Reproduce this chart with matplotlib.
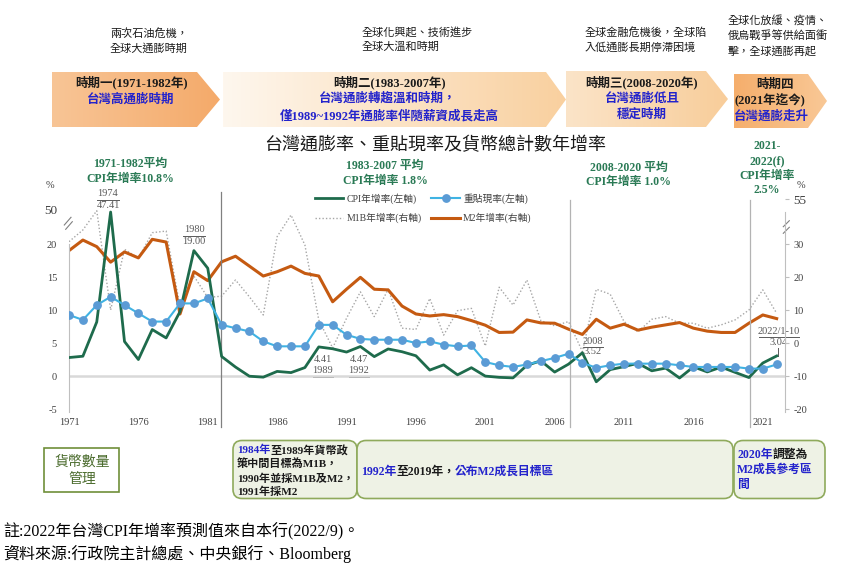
import numpy as np
import matplotlib
matplotlib.use('Agg')
import matplotlib.pyplot as plt
from matplotlib.patches import Polygon, FancyBboxPatch, Rectangle
from matplotlib.colors import to_rgb
import matplotlib.patheffects as pe

# ---------------- data ----------------
years = list(range(1971, 2023))
cpi = [2.80, 3.00, 8.19, 47.41, 5.23, 2.50, 7.04, 5.77, 9.76, 19.00,
       16.33, 2.96, 1.36, -0.03, -0.17, 0.70, 0.52, 1.28, 4.41, 4.13,
       3.63, 4.47, 2.94, 4.10, 3.68, 3.07, 0.90, 1.69, 0.18, 1.26,
       -0.01, -0.20, -0.28, 1.62, 2.31, 0.60, 1.80, 3.52, -0.87, 0.97,
       1.42, 1.93, 0.79, 1.20, -0.30, 1.39, 0.62, 1.35, 0.56, -0.23,
       1.97, 3.04]
discount = [9.25, 8.5, 10.75, 12.0, 10.75, 9.5, 8.25, 8.25, 11.0, 11.0,
            11.75, 7.75, 7.25, 6.75, 5.25, 4.5, 4.5, 4.5, 7.75, 7.75,
            6.25, 5.625, 5.5, 5.5, 5.5, 5.0, 5.25, 4.75, 4.5, 4.625,
            2.125, 1.625, 1.375, 1.75, 2.25, 2.75, 3.375, 2.0, 1.25, 1.625,
            1.875, 1.875, 1.875, 1.875, 1.625, 1.375, 1.375, 1.375, 1.375, 1.125,
            1.125, 1.75]
m1b = [31.3, 37.8, 48.5, 10.0, 28.4, 25.7, 36.3, 37.2, 11.0, 20.3,
       13.8, 14.2, 19.1, 14.0, 8.5, 34.1, 46.1, 29.7, 7.0, -1.5,
       7.5, 15.5, 8.0, 16.3, 4.5, 4.1, 13.5, 2.4, 9.8, 10.5,
       -0.9, 16.9, 11.5, 19.1, 6.8, 5.2, 6.5, -2.6, 16.3, 14.8,
       6.5, 3.4, 7.2, 8.0, 6.0, 6.0, 4.5, 5.5, 7.0, 10.0,
       16.1, 9.0]
m2 = [28.0, 32.2, 29.2, 24.5, 27.6, 25.8, 32.6, 31.1, 8.8, 21.6,
      18.9, 24.6, 26.3, 23.3, 20.3, 21.6, 23.3, 21.1, 20.3, 12.5,
      16.3, 19.9, 16.3, 16.1, 11.2, 8.8, 8.2, 8.6, 8.0, 6.8,
      5.4, 3.2, 3.3, 7.0, 6.1, 6.0, 4.2, 2.6, 7.2, 4.5,
      5.7, 3.9, 4.8, 5.5, 6.2, 4.5, 3.6, 3.2, 3.2, 6.0,
      8.5, 7.4]

left_ticks = [-5, 0, 5, 10, 15, 20, 50]
right_ticks = [-20, -10, 0, 10, 20, 30, 55]
x_ticks = [1971, 1976, 1981, 1986, 1991, 1996, 2001, 2006, 2011, 2016, 2021]
legend_labels = ['CPI年增率(左軸)', 'M1B年增率(右軸)', '重貼現率(左軸)', 'M2年增率(右軸)']
title = '台灣通膨率、重貼現率及貨幣總計數年增率'

SER = ['Liberation Serif', 'Noto Sans CJK TC']
plt.rcParams['font.family'] = SER

W, H = 847, 571
fig = plt.figure(figsize=(W / 100, H / 100), dpi=100)

# ---------------- broken scales ----------------
KL = (35 / 30) / 6.6
KR = (45 / 25) / 6.6


def fwd_L(v):
    v = np.asarray(v, float)
    return np.where(v <= 20, v, 20 + (v - 20) * KL)


def inv_L(u):
    u = np.asarray(u, float)
    return np.where(u <= 20, u, 20 + (u - 20) / KL)


def fwd_R(r):
    r = np.asarray(r, float)
    return np.where(r <= 30, (r + 10) / 2, 20 + (r - 30) * KR)


def inv_R(u):
    u = np.asarray(u, float)
    return np.where(u <= 20, 2 * u - 10, 30 + (u - 20) / KR)


U_BOT, U_TOP = -5.45, 27.88
AX_L, AX_R, AX_T, AX_B = 69, 785, 192, 412
ax = fig.add_axes([AX_L / W, 1 - AX_B / H, (AX_R - AX_L) / W, (AX_B - AX_T) / H])
ax2 = ax.twinx()
ax.set_zorder(3)
ax2.set_zorder(2)
ax.patch.set_visible(False)
ax2.patch.set_visible(False)

ax.set_yscale('function', functions=(fwd_L, inv_L))
ax2.set_yscale('function', functions=(fwd_R, inv_R))
ax.set_ylim(float(inv_L(U_BOT)), float(inv_L(U_TOP)))
ax2.set_ylim(float(inv_R(U_BOT)), float(inv_R(U_TOP)))
ax.set_xlim(1971, 2022.6)

ax.axhline(0, color='#d9d9d9', lw=1.8, zorder=1)
for xv, col, top in [(1981.95, '#808080', 1.0), (2007.1, '#b3b3b3', 0.964), (2020.05, '#b3b3b3', 0.964)]:
    ax.axvline(xv, ymin=-0.068, ymax=top, color=col, lw=0.9, clip_on=False, zorder=1)

l_m1b, = ax2.plot(years, m1b, color='#a6a6a6', lw=1.0, ls=(0, (1, 1.5)))
l_m2, = ax2.plot(years, m2, color='#c55a11', lw=2.2)
l_cpi, = ax.plot(years, cpi, color='#1e6b4c', lw=2.0, zorder=4)
l_disc, = ax.plot(years, discount, color='#3fb3e3', lw=1.5, marker='o', ms=5.3,
                  mfc='#5b9bd5', mec='#5b9bd5', zorder=5)

ax.set_xticks(x_ticks)
ax.set_xticklabels([str(v) for v in x_ticks])
ax.set_yticks(left_ticks)
ax.set_yticklabels([str(v) for v in left_ticks])
ax2.set_yticks(right_ticks)
ax2.set_yticklabels([str(v) for v in right_ticks])
ax.yaxis.set_minor_locator(matplotlib.ticker.NullLocator())
ax2.yaxis.set_minor_locator(matplotlib.ticker.NullLocator())

ax.tick_params(axis='x', length=0, pad=4, labelsize=7.5, labelcolor='#404040')
ax.tick_params(axis='y', length=0, pad=8.6, labelsize=7.5, labelcolor='#404040')
ax2.tick_params(axis='y', length=3, direction='out', color='#bfbfbf', pad=3,
                labelsize=7.5, labelcolor='#404040')
for lab in ax.get_yticklabels():
    if lab.get_text() == '50':
        lab.set_fontsize(9.5)
for lab in ax2.get_yticklabels():
    if lab.get_text() == '55':
        lab.set_fontsize(9.5)

for s in ['top', 'right', 'bottom']:
    ax.spines[s].set_visible(False)
for s in ['top', 'left', 'bottom']:
    ax2.spines[s].set_visible(False)
ax.spines['left'].set_color('#bfbfbf')
ax.spines['left'].set_bounds(float(inv_L(U_BOT)), 20.2)
ax2.spines['right'].set_color('#bfbfbf')
ax2.spines['right'].set_bounds(float(inv_R(U_BOT)), 47.8)

leg = ax.legend([l_cpi, l_m1b, l_disc, l_m2], legend_labels, ncol=2, loc='upper left',
                bbox_to_anchor=(315 / W, 1 - 193 / H), bbox_transform=fig.transFigure,
                frameon=False, fontsize=7, handlelength=2.9, handletextpad=0.35,
                columnspacing=1.0, labelspacing=0.95, borderpad=0, borderaxespad=0,
                numpoints=1)
for t in leg.get_texts():
    t.set_color('#404040')

# ---------------- overlay (pixel coordinates) ----------------
ov = fig.add_axes([0, 0, 1, 1])
ov.set_zorder(1)
ov.patch.set_visible(False)


def txt(x, y, s, size, color='#1a1a1a', weight='normal', ha='center', va='center', **kw):
    return ov.text(x, y, s, fontsize=size, color=color, fontweight=weight, ha=ha, va=va,
                   family=SER, **kw)


def rich(x, y, parts, size, weight='bold'):
    t = txt(x, y, parts[0][0], size, color=parts[0][1], weight=weight, ha='left', va='center')
    for s, c in parts[1:]:
        t = ov.annotate(s, xy=(1, 0.5), xycoords=t, xytext=(0, 0), textcoords='offset points',
                        fontsize=size, color=c, fontweight=weight, ha='left', va='center',
                        family=SER)
    return t


def chevron(x0, xs, x1, y0, y1, c0, c1):
    ym = (y0 + y1) / 2
    poly = Polygon([(x0, y0), (xs, y0), (x1, ym), (xs, y1), (x0, y1)], closed=True,
                   fc='none', ec='none')
    ov.add_patch(poly)
    a = np.array(to_rgb(c0))
    b = np.array(to_rgb(c1))
    tt = np.linspace(0, 1, 256)[None, :, None]
    img = a + (b - a) * tt
    im = ov.imshow(img, extent=(x0, x1, y1, y0), aspect='auto', interpolation='bilinear', zorder=1)
    im.set_clip_path(poly)


BLUE = '#2323cc'
GREEN = '#2a7a55'

# top descriptions
txt(110, 33, '兩次石油危機，', 8, ha='left')
txt(110, 48, '全球大通膨時期', 8, ha='left')
txt(362, 32, '全球化興起、技術進步', 8, ha='left')
txt(362, 47, '全球大溫和時期', 8, ha='left')
txt(585, 32, '全球金融危機後，全球陷', 8, ha='left')
txt(585, 47, '入低通膨長期停滯困境', 8, ha='left')
txt(728, 20, '全球化放緩、疫情、', 8, ha='left')
txt(728, 36, '俄烏戰爭等供給面衝', 8, ha='left')
txt(728, 51, '擊，全球通膨再起', 8, ha='left')

# chevrons
chevron(52, 197, 220, 72, 127, '#f8c596', '#f4aa6a')
chevron(223, 546, 566, 72, 127, '#fef7ee', '#f9d09f')
chevron(566, 706, 728, 71, 127, '#fbe4c8', '#f8cd9a')
chevron(734, 808, 827, 74, 128, '#f5ae6c', '#f9c896')

txt(131, 82, '時期一(1971-1982年)', 9, weight='bold')
txt(131, 100, '台灣高通膨時期', 9, color=BLUE, weight='bold')
txt(390, 82, '時期二(1983-2007年)', 9, weight='bold')
txt(388, 99, '台灣通膨轉趨溫和時期，', 9, color=BLUE, weight='bold')
txt(389, 116, '僅1989~1992年通膨率伴隨薪資成長走高', 9, color=BLUE, weight='bold')
txt(641, 82, '時期三(2008-2020年)', 9, weight='bold')
txt(642, 99, '台灣通膨低且', 9, color=BLUE, weight='bold')
txt(642, 115, '穩定時期', 9, color=BLUE, weight='bold')
txt(775, 85, '時期四', 9, weight='bold')
txt(770, 100, '(2021年迄今)', 9, weight='bold')
txt(771, 117, '台灣通膨走升', 9, color=BLUE, weight='bold')

# title
txt(435, 146, title, 13)

# period averages
txt(130, 164, '1971-1982平均', 8.5, color=GREEN, weight='bold')
txt(130, 179, 'CPI年增率10.8%', 8.5, color=GREEN, weight='bold')
txt(385, 166, '1983-2007 平均', 8.5, color=GREEN, weight='bold')
txt(385, 181, 'CPI年增率 1.8%', 8.5, color=GREEN, weight='bold')
txt(629, 168, '2008-2020 平均', 8.5, color=GREEN, weight='bold')
txt(629, 182, 'CPI年增率 1.0%', 8.5, color=GREEN, weight='bold')
for yy, s in zip([146, 161, 176, 190], ['2021-', '2022(f)', 'CPI年增率', '2.5%']):
    txt(767, yy, s, 8.5, color=GREEN, weight='bold')

# axis unit labels
txt(50, 186, '%', 7.5, color='#404040')
txt(801, 186, '%', 7.5, color='#404040')

# break marks
for (xa, ya, xb, yb) in [(64.3, 225, 71, 217.3), (65.7, 229.3, 72.3, 221.7),
                         (783.3, 226.7, 789.3, 220.7), (783.3, 233.3, 789.3, 227.3)]:
    ov.plot([xa, xb], [ya, yb], color='#808080', lw=0.8,
            path_effects=[pe.Stroke(linewidth=3, foreground='white'), pe.Normal()])

# value annotations
AC = '#595959'


def frac(xc, y1, s1, y2, s2, yl, hw):
    txt(xc, y1, s1, 7.5, color=AC)
    txt(xc, y2, s2, 7.5, color=AC)
    ov.plot([xc - hw, xc + hw], [yl, yl], color=AC, lw=0.7)


frac(108, 193, '1974', 206, '47.41', 199.5, 11)
frac(194, 229.5, '1980', 242, '19.00', 236, 11)
frac(593, 341, '2008', 352, '3.52', 346.5, 10)
frac(779, 331.5, '2022/1-10', 342.5, '3.04', 337, 20)
ov.plot([778, 778], [348, 356], color=AC, lw=0.7)
txt(323, 360, '4.41', 7.5, color=AC)
txt(323, 370.5, '1989', 7.5, color=AC)
ov.plot([313, 333], [376.5, 376.5], color=AC, lw=0.7)
txt(359, 360, '4.47', 7.5, color=AC)
txt(359, 370.5, '1992', 7.5, color=AC)
ov.plot([349, 369], [376.5, 376.5], color=AC, lw=0.7)

# bottom boxes
ov.add_patch(Rectangle((44, 448), 75, 44, fc='white', ec='#6f8f3a', lw=1.2))
txt(82, 462, '貨幣數量', 10, color='#4a6b2c')
txt(82, 480, '管理', 10, color='#4a6b2c')
for (x0, w) in [(233, 124), (357, 376), (734, 91)]:
    ov.add_patch(FancyBboxPatch((x0, 440.5), w, 58, boxstyle='round,pad=0,rounding_size=9',
                                fc='#eef2e5', ec='#8faa5c', lw=1.2))
DK = '#1a1a1a'
rich(237, 450, [('1984年', BLUE), ('至1989年貨幣政', DK)], 8)
rich(237, 464, [('策中間目標為M1B，', DK)], 8)
rich(237, 478.5, [('1990年並採M1B及M2，', DK)], 8)
rich(237, 492, [('1991年採M2', DK)], 8)
rich(361, 472, [('1992年', BLUE), ('至2019年，', DK), ('公布M2成長目標區', BLUE)], 8.5)
rich(737, 455, [('2020年', BLUE), ('調整為', DK)], 8.5)
rich(737, 470, [('M2成長參考區', BLUE)], 8.5)
rich(737, 485, [('間', BLUE)], 8.5)

# footer
txt(3, 532, '註:2022年台灣CPI年增率預測值來自本行(2022/9)。', 11.5, color='black', ha='left')
txt(3, 554, '資料來源:行政院主計總處、中央銀行、Bloomberg', 11.5, color='black', ha='left')

ov.set_xlim(0, W)
ov.set_ylim(H, 0)
ov.axis('off')

fig.savefig('out.png', dpi=100)
